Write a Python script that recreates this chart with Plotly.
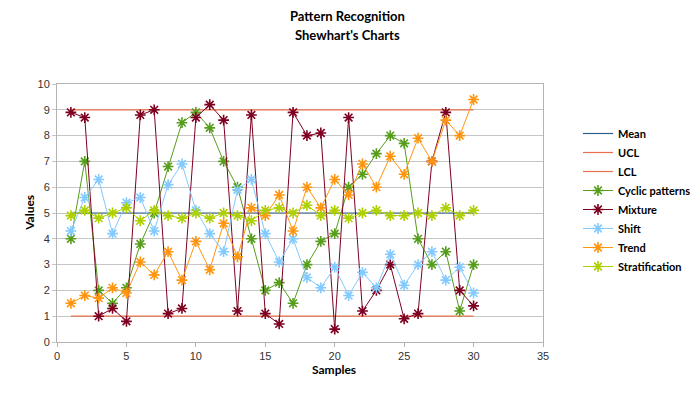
import plotly.graph_objects as go

samples = list(range(1, 31))

mean_vals = [5] * 30
ucl_vals = [9] * 30
lcl_vals = [1] * 30

cyclic = [4.0, 7.0, 2.0, 1.5, 2.1, 3.8, 5.0, 6.8, 8.5, 8.9,
          8.3, 7.0, 6.0, 4.0, 2.0, 2.3, 1.5, 3.0, 3.9, 4.2,
          6.0, 6.5, 7.3, 8.0, 7.7, 4.0, 3.0, 3.5, 1.2, 3.0]
mixture = [8.9, 8.7, 1.0, 1.3, 0.8, 8.8, 9.0, 1.1, 1.3, 8.7,
           9.2, 8.6, 1.2, 8.8, 1.1, 0.7, 8.9, 8.0, 8.1, 0.5,
           8.7, 1.2, 2.0, 3.0, 0.9, 1.1, 7.0, 8.9, 2.0, 1.4]
shift = [4.3, 5.6, 6.3, 4.2, 5.4, 5.6, 4.3, 6.1, 6.9, 5.1,
         4.2, 3.5, 5.9, 6.3, 4.2, 3.1, 4.0, 2.5, 2.1, 2.9,
         1.8, 2.7, 2.1, 3.4, 2.2, 3.0, 3.5, 2.4, 2.9, 1.9]
trend = [1.5, 1.8, 1.7, 2.1, 1.9, 3.1, 2.6, 3.5, 2.4, 3.9,
         2.8, 4.6, 3.3, 5.2, 4.9, 5.7, 4.3, 6.0, 5.2, 6.3,
         5.7, 6.9, 6.0, 7.2, 6.5, 7.9, 7.0, 8.6, 8.0, 9.4]
stratification = [4.9, 5.1, 4.8, 5.0, 5.2, 4.7, 5.1, 4.9, 4.8, 5.0,
                  4.8, 5.0, 4.9, 4.7, 5.1, 5.2, 5.0, 5.3, 4.9, 5.1,
                  4.8, 5.0, 5.1, 4.9, 4.9, 5.0, 4.9, 5.2, 4.9, 5.1]

x_ticks = [0, 5, 10, 15, 20, 25, 30, 35]
y_ticks = list(range(0, 11))

title_lines = ["Pattern Recognition", "Shewhart's Charts"]
x_title = "Samples"
y_title = "Values"

fig = go.Figure()

ref_lines = [("Mean", mean_vals, "#2f5f8f"),
             ("UCL", ucl_vals, "#e8704c"),
             ("LCL", lcl_vals, "#e8704c")]
for name, vals, col in ref_lines:
    fig.add_trace(go.Scatter(x=samples, y=vals, name=name, mode="lines",
                             line=dict(color=col, width=1.2)))

series = [("Cyclic patterns", cyclic, "#579d1c"),
          ("Mixture", mixture, "#7e0021"),
          ("Shift", shift, "#83caff"),
          ("Trend", trend, "#ff950e"),
          ("Stratification", stratification, "#aecf00")]
for name, vals, col in series:
    fig.add_trace(go.Scatter(
        x=samples, y=vals, name=name, mode="lines+markers",
        line=dict(color=col, width=1),
        marker=dict(symbol="asterisk-open", size=9,
                    line=dict(color=col, width=1.6))))

# the page body adds an 8px offset; layout pixel targets are compensated
OFF = 8
L, T, R, B = 57 - OFF, 84 - OFF, 557 - OFF, 342 - OFF
W, H = 700, 400
pw, ph = R - L, B - T


def px(x):
    return (x - OFF - L) / pw


def py(y):
    return (B - (y - OFF)) / ph


axis_font = dict(family="Liberation Sans, Arial, sans-serif", size=11, color="#333333")
bold_font = dict(family="Lato, sans-serif", size=13, color="black", weight="bold")

annotations = [
    dict(text=title_lines[0], x=px(356), y=py(16)),
    dict(text=title_lines[1], x=px(356), y=py(35)),
    dict(text=x_title, x=px(342), y=py(369), font=dict(bold_font, size=12)),
    dict(text=y_title, x=px(28), y=py(213), textangle=-90, font=dict(bold_font, size=12)),
]
for a in annotations:
    a.setdefault("font", bold_font)
    a.update(xref="paper", yref="paper", showarrow=False,
             xanchor="center", yanchor="middle")

fig.update_layout(
    width=W, height=H,
    margin=dict(l=L, r=W - R, t=T, b=H - B),
    paper_bgcolor="white", plot_bgcolor="white",
    showlegend=True,
    legend=dict(x=px(593), xanchor="left", y=py(119), yanchor="top",
                font=dict(family="Lato, sans-serif", size=11, color="black", weight="bold"),
                tracegroupgap=0, bgcolor="rgba(0,0,0,0)"),
    xaxis=dict(range=[0, 35], tickvals=x_ticks, showgrid=False, zeroline=False,
               showline=True, linecolor="#b3b3b3", linewidth=1, mirror=True,
               ticks="outside", ticklen=4, tickcolor="#b3b3b3",
               tickfont=axis_font),
    yaxis=dict(range=[0, 10], tickvals=y_ticks, showgrid=True,
               gridcolor="#c6c6c6", gridwidth=1, zeroline=False,
               showline=True, linecolor="#b3b3b3", linewidth=1, mirror=True,
               ticks="outside", ticklen=4, tickcolor="#c6c6c6",
               tickfont=axis_font),
    annotations=annotations,
)

fig.write_html("out.html")
